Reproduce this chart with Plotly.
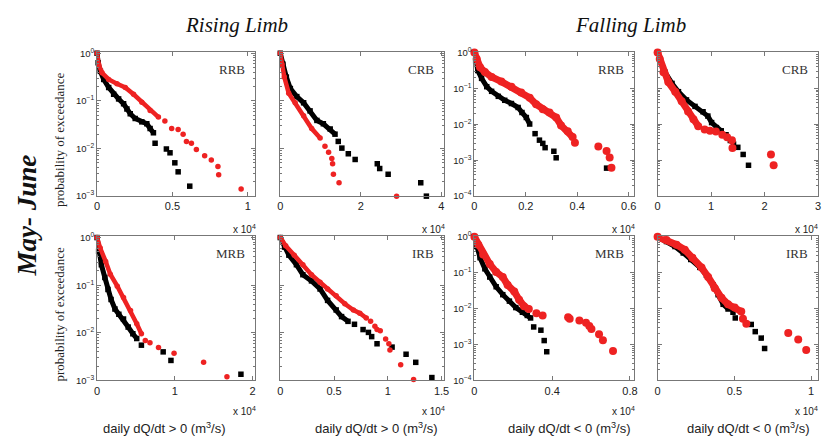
import plotly.graph_objects as go

# ---------------- data (x in m^3/s, P = probability of exceedance) ----------------
RRB_RISE_BLACK_X = [0, 70, 220, 440, 770, 1100, 1430, 1760, 1980, 2200, 2530, 2970, 3300, 3520, 3740, 3850, 4600, 4840, 5160, 5380, 6150]
RRB_RISE_BLACK_P = [1.0, 0.631, 0.417, 0.282, 0.191, 0.138, 0.110, 0.0871, 0.0676, 0.0537, 0.0427, 0.0363, 0.0331, 0.0263, 0.0214, 0.0129, 0.00977, 0.00813, 0.00501, 0.00324, 0.00162]
RRB_RISE_RED_X = [0, 110, 330, 770, 1320, 1870, 2420, 2970, 3520, 4070, 4500, 4950, 5380, 5710, 5930, 6260, 6590, 7140, 7580, 8020, 8070, 9560]
RRB_RISE_RED_P = [1.0, 0.575, 0.389, 0.282, 0.229, 0.191, 0.138, 0.0933, 0.0631, 0.0457, 0.0380, 0.0263, 0.0251, 0.0200, 0.0141, 0.0129, 0.00955, 0.00708, 0.00575, 0.00417, 0.00282, 0.00141]

CRB_RISE_BLACK_X = [0, 660, 1500, 2500, 4100, 5800, 7400, 9100, 10700, 12400, 13600, 14400, 15300, 16900, 18600, 24100, 24700, 26800, 34900, 36300]
CRB_RISE_BLACK_P = [1.0, 0.589, 0.316, 0.182, 0.123, 0.0912, 0.0617, 0.0389, 0.0331, 0.0257, 0.0200, 0.0141, 0.0102, 0.00776, 0.00589, 0.00479, 0.00380, 0.00288, 0.00191, 0.00100]
CRB_RISE_RED_X = [0, 400, 1000, 2100, 3700, 5800, 7800, 9900, 11100, 12000, 12800, 13000, 13200, 14600, 28900]
CRB_RISE_RED_P = [1.0, 0.589, 0.316, 0.145, 0.0912, 0.0490, 0.0263, 0.0166, 0.0112, 0.00832, 0.00617, 0.00479, 0.00288, 0.00191, 0.00100]

RRB_FALL_BLACK_X = [0, 50, 130, 280, 480, 670, 930, 1180, 1440, 1700, 1850, 2020, 2150, 2360, 2530, 2660, 2750, 3090, 3180, 5140]
RRB_FALL_BLACK_P = [1.0, 0.589, 0.316, 0.191, 0.112, 0.0832, 0.0603, 0.0468, 0.0380, 0.0295, 0.0214, 0.0155, 0.0102, 0.00550, 0.00363, 0.00295, 0.00224, 0.00178, 0.00117, 0.000603]
RRB_FALL_RED_X = [0, 90, 220, 410, 670, 1050, 1440, 1820, 2150, 2400, 2660, 2920, 3180, 3370, 3630, 3820, 3910, 4820, 5140, 5260, 5330]
RRB_FALL_RED_P = [1.0, 0.661, 0.389, 0.288, 0.209, 0.155, 0.112, 0.0776, 0.0550, 0.0363, 0.0263, 0.0214, 0.0155, 0.00933, 0.00646, 0.00447, 0.00309, 0.00240, 0.00182, 0.00120, 0.000617]

CRB_FALL_BLACK_X = [0, 500, 1400, 2700, 3900, 5400, 7000, 8500, 9400, 10100, 11000, 11900, 12800, 13600, 14200, 15000, 16000, 17000]
CRB_FALL_BLACK_P = [1.0, 0.589, 0.282, 0.138, 0.0813, 0.0479, 0.0316, 0.0224, 0.0170, 0.0112, 0.00813, 0.00661, 0.00513, 0.00355, 0.00282, 0.00229, 0.00145, 0.000724]
CRB_FALL_RED_X = [0, 400, 1100, 2000, 3300, 4500, 5700, 6700, 7600, 8800, 9800, 10900, 12100, 13000, 13900, 14000, 21200, 21700]
CRB_FALL_RED_P = [1.0, 0.661, 0.282, 0.151, 0.0813, 0.0437, 0.0229, 0.0138, 0.00891, 0.00724, 0.00661, 0.00631, 0.00513, 0.00437, 0.00363, 0.00219, 0.00145, 0.000724]

MRB_RISE_BLACK_X = [0, 200, 550, 1000, 1400, 1800, 2300, 2800, 3400, 4000, 4600, 5100, 5700, 8500, 9500, 18500]
MRB_RISE_BLACK_P = [1.0, 0.513, 0.269, 0.145, 0.0813, 0.0501, 0.0316, 0.0245, 0.0195, 0.0132, 0.00955, 0.00759, 0.00550, 0.00398, 0.00263, 0.00135]
MRB_RISE_RED_X = [0, 400, 1100, 1700, 2600, 3400, 4300, 5100, 5700, 6200, 6800, 7900, 9900, 13700, 16700]
MRB_RISE_RED_P = [1.0, 0.603, 0.316, 0.170, 0.0955, 0.0550, 0.0295, 0.0155, 0.00955, 0.00692, 0.00617, 0.00490, 0.00372, 0.00240, 0.00120]

IRB_RISE_BLACK_X = [0, 400, 800, 1500, 2100, 2900, 3700, 4400, 5200, 5700, 6300, 6900, 7700, 8200, 8500, 9000, 10400, 11700, 12600, 14100]
IRB_RISE_BLACK_P = [1.0, 0.631, 0.427, 0.269, 0.166, 0.123, 0.0832, 0.0479, 0.0302, 0.0219, 0.0174, 0.0151, 0.0117, 0.0102, 0.00832, 0.00589, 0.00501, 0.00355, 0.00240, 0.00115]
IRB_RISE_RED_X = [0, 500, 1300, 2100, 2900, 3700, 4400, 5200, 6000, 6800, 7400, 8000, 8400, 8800, 9000, 9300, 9800, 10100, 10200, 11200, 12400]
IRB_RISE_RED_P = [1.0, 0.676, 0.427, 0.269, 0.166, 0.115, 0.0832, 0.0603, 0.0407, 0.0302, 0.0257, 0.0204, 0.0174, 0.0138, 0.0117, 0.0110, 0.00741, 0.00589, 0.00437, 0.00214, 0.00105]

MRB_FALL_BLACK_X = [0, 120, 290, 540, 790, 1120, 1460, 1800, 2130, 2470, 2720, 2890, 3050, 3420, 3590, 3720]
MRB_FALL_BLACK_P = [1.0, 0.537, 0.263, 0.129, 0.0759, 0.0407, 0.0245, 0.0162, 0.0107, 0.00794, 0.00646, 0.00550, 0.00309, 0.00251, 0.00129, 0.000631]
MRB_FALL_RED_X = [0, 200, 450, 790, 1120, 1460, 1710, 2050, 2300, 2550, 2800, 3190, 3510, 4820, 4900, 5400, 5740, 5910, 6020, 6410, 6610, 7130]
MRB_FALL_RED_P = [1.0, 0.603, 0.324, 0.174, 0.105, 0.0759, 0.0457, 0.0302, 0.0178, 0.0117, 0.00977, 0.00741, 0.00646, 0.00575, 0.00525, 0.00468, 0.00407, 0.00331, 0.00269, 0.00195, 0.00132, 0.000661]

IRB_FALL_BLACK_X = [0, 580, 1130, 1670, 2160, 2750, 3180, 3620, 3940, 4270, 4590, 4910, 5060, 6100, 6360, 6750, 6970]
IRB_FALL_BLACK_P = [1.0, 0.741, 0.537, 0.355, 0.234, 0.141, 0.0851, 0.0457, 0.0245, 0.0132, 0.00977, 0.00794, 0.00550, 0.00363, 0.00229, 0.00151, 0.000776]
IRB_FALL_RED_X = [0, 580, 1230, 1770, 2270, 2860, 3290, 3720, 4160, 4590, 5020, 5450, 5560, 5780, 8510, 9160, 9680]
IRB_FALL_RED_P = [1.0, 0.813, 0.603, 0.437, 0.263, 0.141, 0.0759, 0.0372, 0.0200, 0.0132, 0.0107, 0.00832, 0.00525, 0.00380, 0.00209, 0.00138, 0.000708]

PANEL_LABELS = ["RRB", "CRB", "RRB", "CRB", "MRB", "IRB", "MRB", "IRB"]
X_TICKVALS = [[0, 5000, 10000], [0, 20000, 40000], [0, 2000, 4000, 6000], [0, 10000, 20000, 30000],
              [0, 10000, 20000], [0, 5000, 10000, 15000], [0, 4000, 8000], [0, 5000, 10000]]
X_TICKTEXT = [["0", "0.5", "1"], ["0", "2", "4"], ["0", "0.2", "0.4", "0.6"], ["0", "1", "2", "3"],
              ["0", "1", "2"], ["0", "0.5", "1", "1.5"], ["0", "0.4", "0.8"], ["0", "0.5", "1"]]
X_TITLES = ["daily dQ/dt > 0 (m<sup>3</sup>/s)", "daily dQ/dt > 0 (m<sup>3</sup>/s)",
            "daily dQ/dt < 0 (m<sup>3</sup>/s)", "daily dQ/dt < 0 (m<sup>3</sup>/s)"]

# ---------------- layout geometry ----------------
W, H = 826, 442
COLS = [(95, 254), (280, 445), (476, 637), (661, 823)]
ROWS = [(47, 195), (236, 384)]
XMAX = [10450, 40600, 6200, 30000, 20250, 15200, 8200, 10450]

SERIES = [
    (RRB_RISE_BLACK_X, RRB_RISE_BLACK_P, 15, RRB_RISE_RED_X, RRB_RISE_RED_P, 10),
    (CRB_RISE_BLACK_X, CRB_RISE_BLACK_P, 11, CRB_RISE_RED_X, CRB_RISE_RED_P, 8),
    (RRB_FALL_BLACK_X, RRB_FALL_BLACK_P, 13, RRB_FALL_RED_X, RRB_FALL_RED_P, 16),
    (CRB_FALL_BLACK_X, CRB_FALL_BLACK_P, 12, CRB_FALL_RED_X, CRB_FALL_RED_P, 9),
    (MRB_RISE_BLACK_X, MRB_RISE_BLACK_P, 12, MRB_RISE_RED_X, MRB_RISE_RED_P, 9),
    (IRB_RISE_BLACK_X, IRB_RISE_BLACK_P, 11, IRB_RISE_RED_X, IRB_RISE_RED_P, 12),
    (MRB_FALL_BLACK_X, MRB_FALL_BLACK_P, 12, MRB_FALL_RED_X, MRB_FALL_RED_P, 11),
    (IRB_FALL_BLACK_X, IRB_FALL_BLACK_P, 11, IRB_FALL_RED_X, IRB_FALL_RED_P, 12),
]

RED = "#ee2222"
BLACK = "#000000"
AXC = "#777777"
SANS = "Liberation Sans, Arial, sans-serif"
SERIF = "Liberation Serif, Times New Roman, serif"


def px(x):
    return x / W


def py(y):
    return 1 - y / H


fig = go.Figure()
layout = dict(width=W, height=H, margin=dict(l=0, r=0, t=0, b=0),
              paper_bgcolor="white", plot_bgcolor="white", showlegend=False)
annotations = []

for i in range(8):
    r, c = divmod(i, 4)
    falling = c >= 2
    n = i + 1
    xa = "x" if n == 1 else f"x{n}"
    ya = "y" if n == 1 else f"y{n}"
    bx, bp, nb, rx, rp, nr = SERIES[i]
    if falling:
        bsize, bw, rsize, rw = 5.5, 5, 8, 7
    else:
        bsize, bw, rsize, rw = 5.5, 5, 5.5, 4.5
    # dense parts drawn as thick bands, then all points as markers
    fig.add_trace(go.Scatter(x=bx[:nb], y=bp[:nb], mode="lines", xaxis=xa, yaxis=ya,
                             line=dict(color=BLACK, width=bw), hoverinfo="skip"))
    fig.add_trace(go.Scatter(x=bx, y=bp, mode="markers", xaxis=xa, yaxis=ya, cliponaxis=False,
                             marker=dict(symbol="square", size=bsize, color=BLACK)))
    fig.add_trace(go.Scatter(x=rx[:nr], y=rp[:nr], mode="lines", xaxis=xa, yaxis=ya,
                             line=dict(color=RED, width=rw), hoverinfo="skip"))
    fig.add_trace(go.Scatter(x=rx, y=rp, mode="markers", xaxis=xa, yaxis=ya, cliponaxis=False,
                             marker=dict(symbol="circle", size=rsize, color=RED)))

    x0, x1 = COLS[c]
    y0, y1 = ROWS[r]
    if falling:
        yr = [-4, 0.02]
        yt = [1, 0.1, 0.01, 0.001, 0.0001]
        ytt = ["10<sup>0</sup>", "10<sup>−1</sup>", "10<sup>−2</sup>", "10<sup>−3</sup>", "10<sup>−4</sup>"]
    else:
        yr = [-3, 0.03]
        yt = [1, 0.1, 0.01, 0.001]
        ytt = ["10<sup>0</sup>", "10<sup>−1</sup>", "10<sup>−2</sup>", "10<sup>−3</sup>"]

    layout["xaxis" if n == 1 else f"xaxis{n}"] = dict(
        domain=[px(x0), px(x1)], anchor=ya, range=[0, XMAX[i]],
        tickvals=X_TICKVALS[i], ticktext=X_TICKTEXT[i], ticks="inside", ticklen=4,
        tickcolor=AXC, mirror="allticks", showline=True, linecolor=AXC, linewidth=1,
        showgrid=False, zeroline=False, tickfont=dict(family=SANS, size=11, color="#222"))
    layout["yaxis" if n == 1 else f"yaxis{n}"] = dict(
        domain=[py(y1), py(y0)], anchor=xa, type="log", range=yr,
        tickvals=yt, ticktext=ytt, ticks="inside", ticklen=4, tickcolor=AXC,
        mirror="allticks", showline=True, linecolor=AXC, linewidth=1,
        showgrid=False, zeroline=False, showticklabels=(c in (0, 2)),
        minor=dict(ticks="inside", ticklen=2, tickcolor=AXC, dtick="D1", showgrid=False),
        tickfont=dict(family=SANS, size=9.5, color="#222"))

    # panel label
    annotations.append(dict(text=PANEL_LABELS[i], x=px(x1 - 8), y=py(y0 + 18), xref="paper", yref="paper",
                            xanchor="right", yanchor="middle", showarrow=False,
                            font=dict(family=SERIF, size=13, color="#333")))
    # x 10^4 multiplier
    mult_y = 229 if r == 0 else 415
    annotations.append(dict(text="x 10<sup>4</sup>", x=px(min(x1 + 3, W - 1)), y=py(mult_y), xref="paper", yref="paper",
                            xanchor="right", yanchor="middle", showarrow=False,
                            font=dict(family=SANS, size=10, color="#222")))

# x-axis titles (bottom row)
for c, cx in enumerate([163, 377, 572, 752]):
    annotations.append(dict(text=X_TITLES[c], x=px(cx), y=py(433), xref="paper", yref="paper",
                            xanchor="center", yanchor="middle", showarrow=False,
                            font=dict(family=SANS, size=13, color="#222")))

# y-axis labels
for cy in [137, 316]:
    annotations.append(dict(text="probability of exceedance", x=px(57), y=py(cy), xref="paper", yref="paper",
                            textangle=-90, xanchor="center", yanchor="middle", showarrow=False,
                            font=dict(family=SERIF, size=13, color="#222")))

# group titles
annotations.append(dict(text="<i>Rising Limb</i>", x=px(236), y=py(19), xref="paper", yref="paper",
                        xanchor="center", yanchor="middle", showarrow=False,
                        font=dict(family=SERIF, size=21, color="#111")))
annotations.append(dict(text="<i>Falling Limb</i>", x=px(634), y=py(19), xref="paper", yref="paper",
                        xanchor="center", yanchor="middle", showarrow=False,
                        font=dict(family=SERIF, size=21, color="#111")))
annotations.append(dict(text="<b><i>May- June</i></b>", x=px(24), y=py(215), xref="paper", yref="paper",
                        textangle=-90, xanchor="center", yanchor="middle", showarrow=False,
                        font=dict(family=SERIF, size=27, color="#111")))

layout["annotations"] = annotations
fig.update_layout(**layout)
fig.write_html("out.html", config={"displayModeBar": False, "staticPlot": True},
               post_script="document.body.style.margin='0px';document.body.style.overflow='hidden';")
